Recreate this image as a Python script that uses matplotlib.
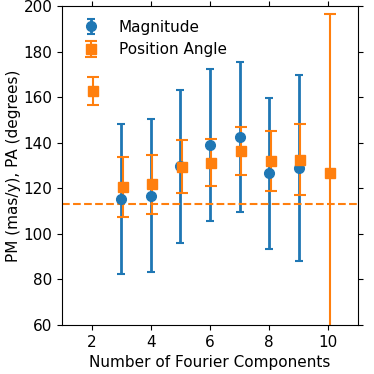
import matplotlib
matplotlib.use("Agg")
import matplotlib.pyplot as plt

# magnitude (proper motion) vs number of Fourier components
mag_n = [3, 4, 5, 6, 7, 8, 9]
mag_val = [115.2, 116.8, 129.7, 139.0, 142.4, 126.5, 128.7]
mag_err = [33.0, 33.5, 33.6, 33.3, 33.0, 33.0, 40.8]

# position angle
pa_n = [2, 3, 4, 5, 6, 7, 8, 9, 10]
pa_val = [162.7, 120.5, 121.8, 129.5, 131.3, 136.3, 132.0, 132.5, 126.6]
pa_err = [6.3, 13.2, 13.0, 11.5, 10.4, 10.5, 13.3, 15.5, 70.0]

ref_line = 113.0

fig = plt.figure(figsize=(3.74, 3.74), dpi=100)
ax = fig.add_axes([0.166, 0.131, 0.791, 0.853])

ax.errorbar(mag_n, mag_val, yerr=mag_err, fmt='o', color='tab:blue',
            markersize=7, elinewidth=2, capsize=3, capthick=1.5,
            label='Magnitude')
ax.errorbar([n + 0.05 for n in pa_n], pa_val, yerr=pa_err, fmt='s',
            color='tab:orange', markersize=6.5, elinewidth=1.5,
            capsize=4.5, capthick=1.5, label='Position Angle')
ax.axhline(ref_line, color='tab:orange', linestyle='--', linewidth=1.5)

ax.set_xlim(1, 11)
ax.set_ylim(60, 200)
ax.set_xticks([2, 4, 6, 8, 10])
ax.set_yticks(range(60, 201, 20))
ax.tick_params(top=True, right=True, labelsize=11)
ax.set_xlabel('Number of Fourier Components', fontsize=11)
ax.set_ylabel('PM (mas/y), PA (degrees)', fontsize=11, labelpad=1.5)
ax.legend(loc='upper left', frameon=False, fontsize=11)

fig.savefig('out.png', dpi=100)
